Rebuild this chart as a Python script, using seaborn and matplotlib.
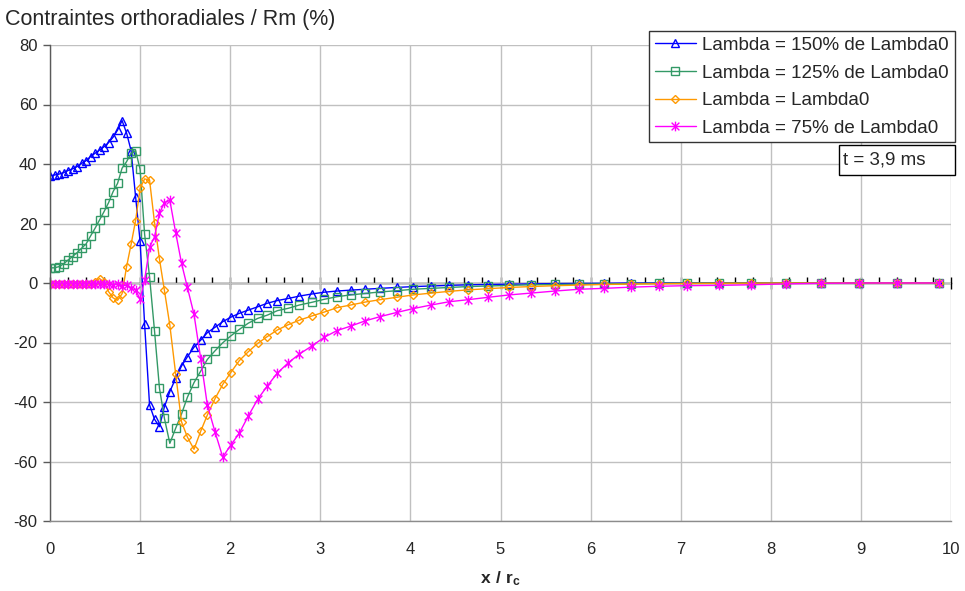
import numpy as np
import pandas as pd
import seaborn as sns
import matplotlib.pyplot as plt
from matplotlib.path import Path
from matplotlib.patches import Rectangle
from matplotlib.ticker import MultipleLocator

# abscisse x / rc (maillage commun aux 4 courbes)
x_rc = [0.00, 0.05, 0.10, 0.15, 0.20, 0.25, 0.30, 0.35, 0.40, 0.45,
        0.50, 0.55, 0.60, 0.65, 0.70, 0.75, 0.80, 0.85, 0.90, 0.95,
        1.00, 1.05, 1.105, 1.16, 1.215, 1.27, 1.33, 1.395, 1.46, 1.525,
        1.598, 1.673, 1.746, 1.831, 1.917, 2.006, 2.101, 2.201, 2.305, 2.412,
        2.523, 2.645, 2.767, 2.905, 3.041, 3.185, 3.337, 3.50, 3.665, 3.848,
        4.032, 4.229, 4.43, 4.643, 4.865, 5.098, 5.335, 5.605, 5.875, 6.149,
        6.445, 6.758, 7.07, 7.429, 7.78, 8.165, 8.554, 8.979, 9.397, 9.87]

lam_150 = [36.0, 36.3, 36.6, 37.1, 37.8, 38.4, 39.1, 40.2, 41.1, 42.5,
           43.6, 44.7, 45.8, 47.2, 49.0, 51.4, 54.6, 50.4, 44.5, 29.0,
           14.0, -13.8, -41.0, -45.8, -48.3, -41.6, -36.5, -32.0, -27.9, -24.8,
           -21.6, -19.2, -16.7, -14.9, -13.0, -11.5, -10.2, -9.1, -8.0, -6.8,
           -5.9, -5.2, -4.4, -3.7, -3.1, -2.7, -2.4, -2.1, -1.8, -1.5,
           -1.2, -1.0, -0.8, -0.6, -0.5, -0.4, -0.3, -0.2, -0.15, -0.1,
           0.0, 0.0, 0.05, 0.05, 0.05, 0.05, 0.05, 0.05, 0.05, 0.05]

lam_125 = [5.1, 5.1, 5.5, 6.4, 7.7, 8.9, 10.2, 11.7, 13.1, 15.8,
           18.4, 21.2, 24.0, 27.0, 30.7, 33.5, 38.6, 40.8, 43.6, 44.5,
           38.2, 16.4, 2.1, -16.1, -35.4, -45.5, -53.9, -48.8, -44.0, -38.4,
           -33.5, -29.6, -25.7, -22.8, -20.1, -17.8, -15.6, -13.5, -11.9, -10.8,
           -9.3, -8.5, -7.4, -6.5, -5.5, -4.6, -4.0, -3.5, -3.0, -2.6,
           -2.1, -1.8, -1.5, -1.2, -1.0, -0.8, -0.6, -0.5, -0.4, -0.3,
           -0.2, -0.1, 0.0, 0.0, 0.0, 0.0, 0.0, 0.0, 0.0, 0.0]

lam_100 = [-0.2, -0.2, -0.2, -0.2, -0.2, -0.2, -0.2, -0.2, -0.2, -0.2,
           0.5, 1.5, 0.3, -2.9, -5.0, -5.8, -3.6, 5.5, 13.0, 21.0,
           31.8, 35.0, 34.6, 20.3, 8.0, -2.5, -14.2, -30.6, -46.7, -51.8,
           -55.9, -49.8, -44.4, -38.9, -34.1, -30.1, -26.1, -23.1, -20.3, -18.0,
           -15.8, -14.0, -12.5, -11.1, -9.8, -8.3, -7.4, -6.4, -5.6, -4.8,
           -4.0, -3.4, -2.8, -2.3, -1.9, -1.5, -1.2, -0.9, -0.7, -0.5,
           -0.35, -0.25, -0.15, -0.1, -0.05, 0.0, 0.0, 0.0, 0.0, 0.0]

lam_75 = [-0.3, -0.3, -0.3, -0.3, -0.3, -0.3, -0.3, -0.3, -0.3, -0.3,
          -0.3, -0.3, -0.4, -0.5, -0.6, -0.5, -0.9, -0.8, -1.8, -2.3,
          -5.5, 1.0, 12.0, 15.5, 23.5, 27.0, 27.8, 16.9, 6.6, -1.5,
          -10.5, -25.5, -41.0, -50.0, -58.5, -54.5, -50.5, -44.7, -39.1, -34.6,
          -30.3, -26.8, -23.9, -21.2, -18.3, -16.0, -14.5, -12.7, -11.3, -9.9,
          -8.6, -7.4, -6.3, -5.6, -4.8, -4.0, -3.4, -2.7, -2.1, -1.8,
          -1.4, -1.1, -0.9, -0.8, -0.6, -0.3, -0.1, 0.0, 0.0, 0.0]

labels = ["Lambda = 150% de Lambda0", "Lambda = 125% de Lambda0",
          "Lambda = Lambda0", "Lambda = 75% de Lambda0"]

# marqueur "étoile" type Excel : croix + barre verticale
star = Path([(-1, -1), (1, 1), (-1, 1), (1, -1), (0, -1.25), (0, 1.25)],
            [Path.MOVETO, Path.LINETO, Path.MOVETO, Path.LINETO, Path.MOVETO, Path.LINETO])

sns.set_style("white")
plt.rcParams['font.family'] = ['Liberation Sans', 'DejaVu Sans']
plt.rcParams['axes.unicode_minus'] = False
plt.rcParams['mathtext.fontset'] = 'custom'
plt.rcParams['mathtext.rm'] = 'Liberation Sans'
plt.rcParams['mathtext.bf'] = 'Liberation Sans:bold'

fig = plt.figure(figsize=(9.65, 5.91), dpi=100)
ax = fig.add_axes([50 / 965, 70 / 591, 901 / 965, 476 / 591])

series = [(lam_150, '#0000ff', '^', 6),
          (lam_125, '#339966', 's', 5.5),
          (lam_100, '#ff9900', 'D', 4.5),
          (lam_75, '#ff00ff', star, 7)]

for (y, col, mk, ms), lab in zip(series, labels):
    sns.lineplot(x=x_rc, y=y, ax=ax, color=col, marker=mk, markersize=ms,
                 markerfacecolor='none', markeredgecolor=col, markeredgewidth=1,
                 linewidth=1, label=lab, errorbar=None, sort=False)

ax.set_xlim(0, 10)
ax.set_ylim(-80, 80)
ax.set_xticks(range(0, 11))
ax.set_yticks(range(-80, 81, 20))
ax.grid(True, color='#c0c0c0', linewidth=1)
ax.set_axisbelow(True)

for s in ['top', 'right']:
    ax.spines[s].set_visible(False)
ax.spines['left'].set_color('#5a5a5a')
ax.spines['bottom'].set_color('#8c8c8c')
ax.spines['left'].set_linewidth(1)
ax.spines['bottom'].set_linewidth(1)

ax.tick_params(axis='y', direction='out', length=5, width=1, color='#5a5a5a',
               labelsize=12, pad=4, left=True)
ax.tick_params(axis='x', length=0, labelsize=12, pad=15)
ax.set_xlabel(r'$\mathbf{x\ /\ r_c}$', fontsize=12.5, labelpad=9)
ax.set_ylabel('')

# axe horizontal à y = 0 avec graduations
zero = ax.secondary_xaxis(0.5)
zero.set_xticks(range(0, 11))
zero.xaxis.set_minor_locator(MultipleLocator(0.2))
zero.tick_params(which='major', direction='inout', length=8, width=1, color='black',
                 labeltop=False, labelbottom=False)
zero.tick_params(which='minor', direction='out', length=4, width=1, color='black')
for sp in zero.spines.values():
    sp.set_color('black')
    sp.set_linewidth(1)

fig.text(5 / 965, 1 - 20 / 591, 'Contraintes orthoradiales / Rm (%)', fontsize=15.5,
         ha='left', va='center')

leg = ax.legend(loc='upper right', bbox_to_anchor=(1.004, 1.029), borderaxespad=0,
                fontsize=13.5, frameon=True, fancybox=False, framealpha=1,
                edgecolor='#333333', handlelength=2.2, handletextpad=0.35,
                labelspacing=0.56, borderpad=0.3)
leg.get_frame().set_linewidth(1)

# cadre "t = 3,9 ms"
ax.add_patch(Rectangle(((839 - 50) / 901, (521 - 175) / 476), 116 / 901, 30 / 476,
                       transform=ax.transAxes, facecolor='white', edgecolor='black',
                       linewidth=1, clip_on=False, zorder=5))
ax.text((843 - 50) / 901, (521 - 160) / 476, 't = 3,9 ms', transform=ax.transAxes,
        fontsize=13.5, ha='left', va='center', zorder=6)

fig.savefig('out.png', dpi=100)
